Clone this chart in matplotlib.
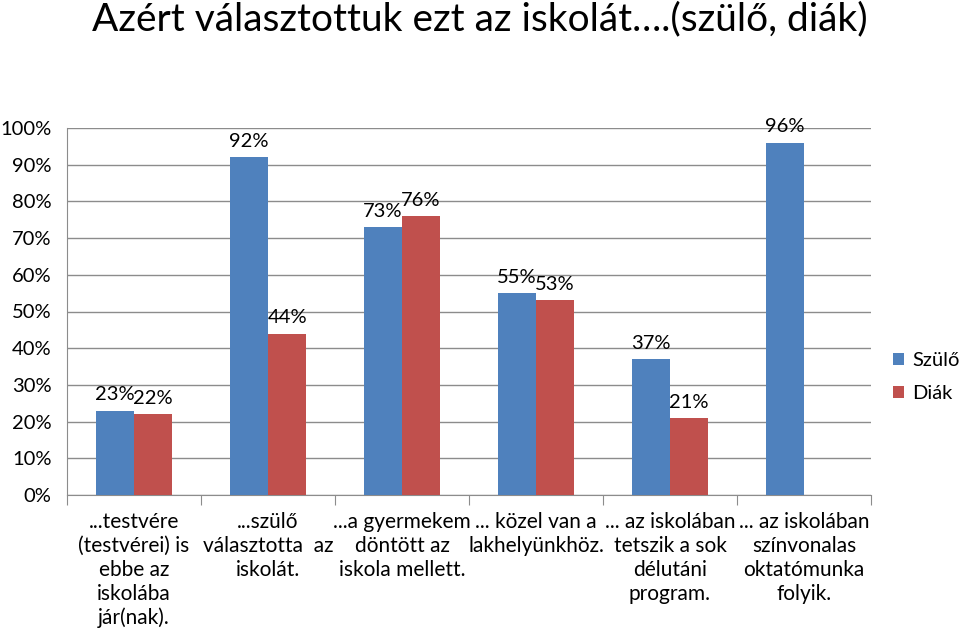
import matplotlib
matplotlib.use("Agg")
import matplotlib.pyplot as plt
import numpy as np

categories = ["...testvére\n(testvérei) is\nebbe az\niskolába\njár(nak).",
              "...szülő\nválasztotta  az\niskolát.",
              "...a gyermekem\ndöntött az\niskola mellett.",
              "... közel van a\nlakhelyünkhöz.",
              "... az iskolában\ntetszik a sok\ndélutáni\nprogram.",
              "... az iskolában\nszínvonalas\noktatómunka\nfolyik."]
szulo = [23, 92, 73, 55, 37, 96]
diak = [22, 44, 76, 53, 21, None]
series_names = ["Szülő", "Diák"]
title = "Azért választottuk ezt az iskolát….(szülő, diák)"

plt.rcParams['font.family'] = ['Lato', 'DejaVu Sans']
blue = "#4F81BD"
red = "#C0504D"
grid = "#8C8C8C"

fig = plt.figure(figsize=(9.6, 6.39), dpi=100)
ax = fig.add_axes([67/960, 1-495/639, (871-67)/960, (495-128)/639])

x = np.arange(len(categories))
w = 0.285
sv = np.array(szulo, dtype=float)
dv = np.array([np.nan if v is None else v for v in diak], dtype=float)
b1 = ax.bar(x - w/2, sv, w, color=blue, label=series_names[0], zorder=3)
b2 = ax.bar(x + w/2, np.nan_to_num(dv), w, color=red, label=series_names[1], zorder=3)
for i in range(len(x)):
    ax.text(x[i] - w/2, sv[i] + 2.0, f"{int(sv[i])}%", ha='center', va='bottom', fontsize=14.5, color='black')
    if not np.isnan(dv[i]):
        ax.text(x[i] + w/2, dv[i] + 2.0, f"{int(dv[i])}%", ha='center', va='bottom', fontsize=14.5, color='black')
if np.isnan(dv[-1]):
    b2[-1].set_visible(False)

ax.set_xlim(-0.5, len(categories) - 0.5)
ax.set_ylim(0, 100)
ax.set_yticks(np.arange(0, 101, 10))
ax.set_yticklabels([f"{v}%" for v in range(0, 101, 10)], fontsize=14.5)
ax.yaxis.grid(True, color=grid, linewidth=1, zorder=0)
ax.set_axisbelow(True)
for s in ['top', 'right']:
    ax.spines[s].set_visible(False)
ax.spines['left'].set_color(grid)
ax.spines['bottom'].set_color(grid)
ax.tick_params(axis='y', length=0, pad=11)
ax.set_xticks(np.arange(-0.5, len(categories), 1.0))
ax.set_xticklabels([])
ax.tick_params(axis='x', length=7, color=grid, direction='out')
for i, c in enumerate(categories):
    ax.text(x[i], -4.5, c, ha='center', va='top', fontsize=15, linespacing=1.25,
            transform=ax.transData)

fig.legend(handles=[b1, b2], labels=series_names, loc='center left',
           bbox_to_anchor=(893/960, 1-377/639), frameon=False, fontsize=14.5,
           handlelength=0.55, handleheight=0.55, handletextpad=0.4, labelspacing=0.8,
           borderpad=0, borderaxespad=0)

fig.text(0.5, 1-19/639, title, ha='center', va='center', fontsize=28)
fig.savefig("out.png", dpi=100)
